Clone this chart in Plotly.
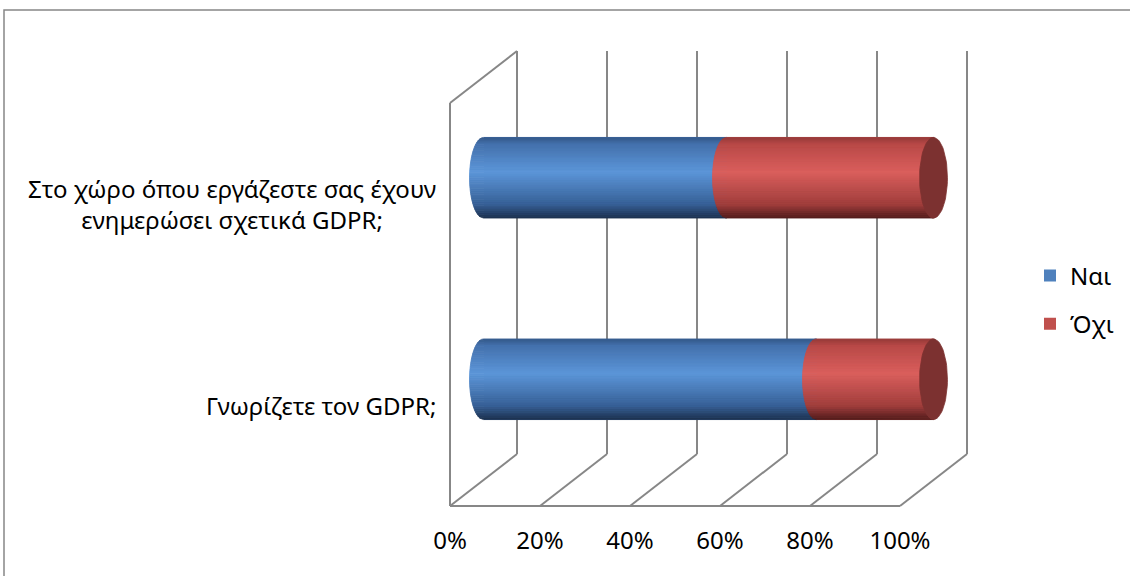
import numpy as np
import plotly.graph_objects as go

# ---- data -------------------------------------------------------------
categories = [
    "Γνωρίζετε τον GDPR;",
    "Στο χώρο όπου εργάζεστε σας έχουν<br>ενημερώσει σχετικά GDPR;",
]
series_names = ["Ναι", "Όχι"]
yes_pct = [74, 54]
no_pct = [26, 46]
tick_vals = [0, 20, 40, 60, 80, 100]
tick_text = ["0%", "20%", "40%", "60%", "80%", "100%"]

# ---- styling / geometry --------------------------------------------------
W, H = 1130, 576
MARGIN_B = 60
PLOT_H = H - MARGIN_B
FONT = "Noto Sans"
FONT_SIZE = 24
GRID_COLOR = "#878787"

# pixel scale of the mid-depth plane
PX_X = 4.5            # px per percent
X_ZERO_PX = 483.5     # px of 0 %
PX_Y = 201.5          # px per category step
Y_ZERO_PX = 379.25    # px of the first category centre

x_range = [-X_ZERO_PX / PX_X, (W - X_ZERO_PX) / PX_X]
y_range = [(Y_ZERO_PX - PLOT_H) / PX_Y, Y_ZERO_PX / PX_Y]

# half-depth offset of the 3-D box, in data units
DX = 33.5 / PX_X
DY = 26.0 / PX_Y

BAR_W = 0.40          # cylinder diameter (category units)
RX = 3.1              # horizontal radius of the end ellipses (percent units)

series_colors = ["#4f81bd", "#c0504d"]
# shading stops across the cylinder: (t, rgb) with t=-1 bottom, t=1 top
shade_stops = {
    "Ναι": [(-1.0, (28, 47, 76)), (-0.65, (55, 96, 150)), (0.15, (92, 150, 217)),
            (0.85, (68, 113, 172)), (1.0, (52, 88, 138))],
    "Όχι": [(-1.0, (80, 27, 27)), (-0.65, (160, 62, 60)), (0.15, (218, 95, 93)),
            (0.85, (184, 73, 71)), (1.0, (150, 58, 57))],
}
face_color = "rgb(124,49,48)"

ypos = list(range(len(categories)))
y_floor = -0.5
y_top = len(categories) - 0.5


def shade(stops, t):
    ts = [s[0] for s in stops]
    rgb = [np.interp(t, ts, [s[1][i] for s in stops]) for i in range(3)]
    return "rgb(%d,%d,%d)" % tuple(int(round(c)) for c in rgb)


def front(v, y):
    return v - DX, y - DY


def back(v, y):
    return v + DX, y + DY


fig = go.Figure()

# flat stacked bars (base layer + legend entries)
for name, vals, col in zip(series_names, [yes_pct, no_pct], series_colors):
    fig.add_trace(go.Bar(
        y=ypos, x=vals, orientation="h", width=BAR_W, name=name,
        marker=dict(color=col, line=dict(width=0)), legendgroup=name,
        hoverinfo="skip",
    ))

# cylinder shading: horizontal bands whose ends follow the ellipse outline
N_BANDS = 44
t_edges = np.linspace(-1, 1, N_BANDS + 1)
starts = [[0] * len(categories), yes_pct]
ends = [yes_pct, [a + b for a, b in zip(yes_pct, no_pct)]]
for si, name in enumerate(series_names):
    for k in range(N_BANDS):
        ta, tb = t_edges[k], t_edges[k + 1]
        ts = np.linspace(ta, tb, 5)
        xs, ys = [], []
        for ci, yc in enumerate(ypos):
            s = np.sqrt(np.clip(1 - ts ** 2, 0, 1))
            yy = yc + ts * BAR_W / 2
            left = starts[si][ci] - RX * s
            right = ends[si][ci] - RX * s
            xs += list(left) + list(right[::-1]) + [left[0], None]
            ys += list(yy) + list(yy[::-1]) + [yy[0], None]
        col = shade(shade_stops[name], (ta + tb) / 2)
        fig.add_trace(go.Scatter(
            x=xs, y=ys, mode="lines", fill="toself", fillcolor=col,
            line=dict(color=col, width=0.8), showlegend=False,
            hoverinfo="skip",
        ))

# end faces of the stacked cylinders
theta = np.linspace(0, 2 * np.pi, 73)
fx, fy = [], []
for ci, yc in enumerate(ypos):
    xe = ends[-1][ci]
    fx += list(xe + RX * np.cos(theta)) + [None]
    fy += list(yc + BAR_W / 2 * np.sin(theta)) + [None]
fig.add_trace(go.Scatter(
    x=fx, y=fy, mode="lines", fill="toself", fillcolor=face_color,
    line=dict(color=face_color, width=0.8), showlegend=False, hoverinfo="skip",
))

# front edge of the floor, drawn on the front-plane axis (x2)
fig.add_trace(go.Scatter(
    x=[tick_vals[0], tick_vals[-1]], y=[y_floor - DY] * 2, xaxis="x2", yaxis="y",
    mode="lines", line=dict(color=GRID_COLOR, width=2), showlegend=False,
    hoverinfo="skip",
))

# ---- 3-D box grid ----------------------------------------------------------
shapes = []


def seg(p, q):
    shapes.append(dict(type="line", xref="x", yref="y", x0=p[0], y0=p[1],
                       x1=q[0], y1=q[1], layer="below",
                       line=dict(color=GRID_COLOR, width=2)))


for v in tick_vals:
    seg(back(v, y_floor), back(v, y_top))
    seg(front(v, y_floor), back(v, y_floor))
seg(front(tick_vals[0], y_floor), front(tick_vals[0], y_top))
seg(front(tick_vals[0], y_top), back(tick_vals[0], y_top))

# chart frame
shapes.append(dict(type="rect", xref="paper", yref="paper",
                   x0=4 / W, x1=1.05, y0=-0.3, y1=(PLOT_H - 10) / PLOT_H,
                   line=dict(color="#878787", width=1.5), layer="below"))

# category labels on the front plane
annotations = []
for yc, lab in zip(ypos, categories):
    fx0, fy0 = front(0, yc)
    annotations.append(dict(
        x=fx0, y=fy0, xref="x", yref="y", text=lab, showarrow=False,
        xanchor="right", yanchor="middle", align="center", xshift=-12,
        font=dict(family=FONT, size=FONT_SIZE, color="#000000"),
    ))

fig.update_layout(
    width=W, height=H,
    margin=dict(l=0, r=0, t=0, b=MARGIN_B),
    paper_bgcolor="white", plot_bgcolor="rgba(0,0,0,0)",
    barmode="stack",
    showlegend=True,
    shapes=shapes,
    annotations=annotations,
    font=dict(family=FONT, size=FONT_SIZE, color="#000000"),
    xaxis=dict(range=x_range, visible=False, fixedrange=True),
    yaxis=dict(range=y_range, visible=False, fixedrange=True),
    # tick labels sit on the front plane of the box
    xaxis2=dict(
        overlaying="x", anchor="y", side="bottom",
        range=[x_range[0] + DX, x_range[1] + DX],
        tickvals=tick_vals, ticktext=tick_text,
        showgrid=False, zeroline=False, showline=False, ticks="",
        ticklabelstandoff=8,
        tickfont=dict(family=FONT, size=FONT_SIZE, color="#000000"),
        fixedrange=True,
    ),
    legend=dict(
        x=1030 / W, y=(PLOT_H - 300) / PLOT_H, xanchor="left", yanchor="middle",
        traceorder="grouped", tracegroupgap=14,
        font=dict(family=FONT, size=FONT_SIZE, color="#000000"),
        bgcolor="rgba(0,0,0,0)",
    ),
)

fig.write_html("out.html")
